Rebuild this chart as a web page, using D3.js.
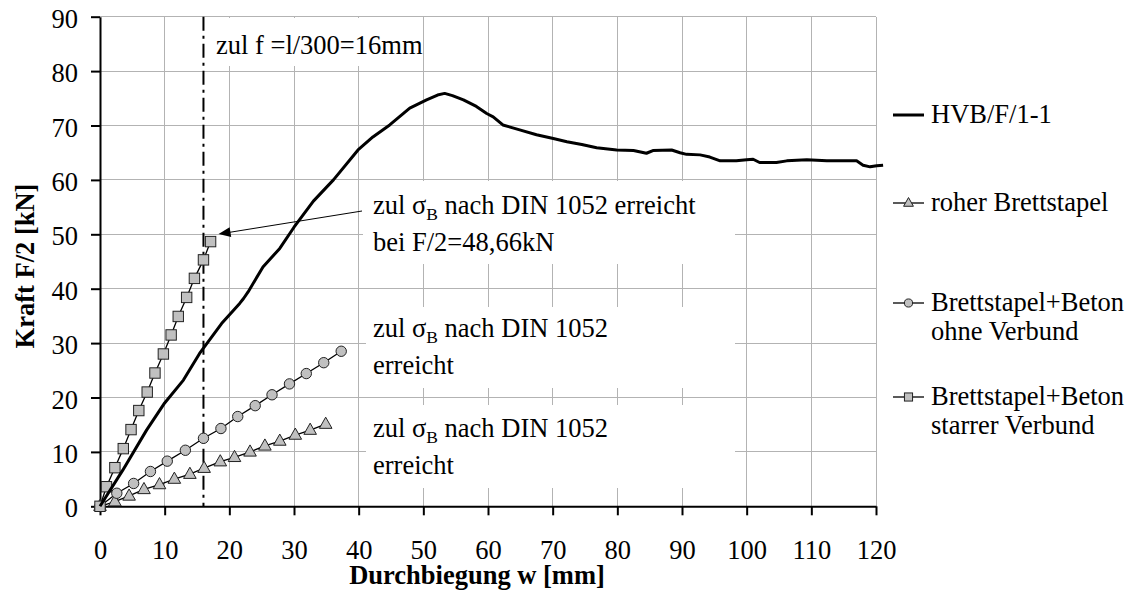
<!DOCTYPE html>
<html>
<head>
<meta charset="utf-8">
<script src="https://cdn.jsdelivr.net/npm/d3@7/dist/d3.min.js"></script>
<style>
  html, body { margin: 0; padding: 0; background: #fff; }
  svg { display: block; }
  text { font-family: "Liberation Serif", "Times New Roman", serif; fill: #000; }
</style>
</head>
<body>
<svg id="chart" width="1133" height="604"></svg>
<script>
// Load-deflection curves, w in mm, F/2 in kN
const hvbTest = [
  [0,0],[3.5,6.6],[7.2,14],[10,19],[12.9,23.2],[15.4,28.1],[18.8,33.6],[21.6,37.3],[22.2,38.2],
  [22.9,39.4],[25.2,44.0],[27.8,47.4],[30,51.3],[33,56.1],[36.1,60.0],[39.9,65.5],[42.2,67.9],
  [44.8,70.1],[47.9,73.2],[50.5,74.7],[52.2,75.6],[53.3,75.9],[54.5,75.5],[56.2,74.7],[58.2,73.5],
  [59.8,72.2],[60.8,71.6],[62.3,70.1],[64.9,69.2],[67.5,68.3],[70.1,67.6],[72.2,67.0],[74.5,66.5],
  [76.8,65.9],[79.9,65.5],[82.5,65.4],[84.5,64.9],[85.5,65.4],[88.4,65.5],[89.7,65.0],[90.7,64.7],
  [92.8,64.6],[94.3,64.2],[95.9,63.5],[98.4,63.5],[100,63.7],[101,63.8],[102,63.2],[104.6,63.2],
  [106.2,63.5],[109.3,63.7],[112.4,63.5],[117,63.5],[118,62.7],[119.1,62.4],[120.1,62.6],[121.1,62.7]
];
const roherBrettstapel = [
  [0,0],[2.3,0.85],[4.5,1.9],[6.8,3.1],[9.2,4.0],[11.5,5.0],[13.9,5.9],[16.1,7.0],[18.6,8.2],
  [20.8,9.0],[23.2,10.0],[25.5,11.1],[27.8,12.0],[30.2,13.1],[32.5,14.0],[34.9,15.1]
];
const ohneVerbund = [
  [0,0],[2.6,2.4],[5.2,4.2],[7.8,6.4],[10.4,8.3],[13.2,10.3],[16.0,12.5],[18.7,14.3],[21.3,16.5],
  [24.0,18.5],[26.6,20.5],[29.3,22.5],[31.9,24.4],[34.6,26.4],[37.3,28.5]
];
const starrerVerbund = [
  [0,0],[1.0,3.6],[2.3,7.1],[3.6,10.6],[4.8,14.1],[6.0,17.6],[7.3,21.0],[8.5,24.5],[9.8,28.0],
  [11.0,31.5],[12.1,34.9],[13.4,38.4],[14.6,41.9],[16.0,45.3],[17.1,48.66]
];
const xTicks = [0,10,20,30,40,50,60,70,80,90,100,110,120];
const yTicks = [0,10,20,30,40,50,60,70,80,90];
const limitDeflection = 16;
const seriesNames = ["HVB/F/1-1", "roher Brettstapel", "Brettstapel+Beton|ohne Verbund", "Brettstapel+Beton|starrer Verbund"];

const svg = d3.select("#chart");
const FS = 26.5;
const plot = { left: 100, right: 876, top: 16.7, bottom: 506.3 };
const x = d3.scaleLinear().domain([0, 120]).range([plot.left, plot.right]);
const y = d3.scaleLinear().domain([0, 90]).range([plot.bottom, plot.top]);

// grid
const grid = svg.append("g").attr("stroke", "#b3b3b3").attr("stroke-width", 1).attr("shape-rendering", "crispEdges");
grid.selectAll("line.v").data(xTicks.filter(d => d > 0)).join("line")
  .attr("x1", d => x(d)).attr("x2", d => x(d)).attr("y1", y(90)).attr("y2", y(0));
grid.selectAll("line.h").data(yTicks.filter(d => d > 0)).join("line")
  .attr("x1", x(0)).attr("x2", x(120)).attr("y1", d => y(d)).attr("y2", d => y(d));

// white text boxes over the grid
const boxes = [
  [207, 18, 418, 66],
  [363, 181, 735, 264],
  [366, 307, 735, 388],
  [366, 405, 735, 488]
];
svg.append("g").selectAll("rect").data(boxes).join("rect")
  .attr("x", d => d[0]).attr("y", d => d[1]).attr("width", d => d[2] - d[0]).attr("height", d => d[3] - d[1])
  .attr("fill", "#fff");

// allowable deflection line
svg.append("line")
  .attr("x1", x(limitDeflection)).attr("x2", x(limitDeflection))
  .attr("y1", y(90)).attr("y2", y(0))
  .attr("stroke", "#000").attr("stroke-width", 2)
  .attr("stroke-dasharray", "14,5,3,5");

// axes
const yAxis = svg.append("g").attr("transform", `translate(${plot.left},0)`)
  .call(d3.axisLeft(y).tickValues(yTicks).tickSize(9).tickPadding(13).tickSizeOuter(0));
const xAxis = svg.append("g").attr("transform", `translate(0,${plot.bottom})`)
  .call(d3.axisBottom(x).tickValues(xTicks).tickSize(9).tickPadding(25).tickSizeOuter(0));
[xAxis, yAxis].forEach(a => {
  a.select(".domain").attr("stroke", "#000").attr("stroke-width", 2);
  a.selectAll(".tick line").attr("stroke", "#000").attr("stroke-width", 2);
  a.selectAll(".tick text").attr("font-size", FS).attr("font-family", "Liberation Serif, serif").attr("fill", "#000");
});
yAxis.selectAll(".tick text").attr("dy", "0.4em");

// axis titles
svg.append("text").attr("x", 477).attr("y", 584).attr("text-anchor", "middle")
  .attr("font-size", FS).attr("font-weight", "bold").text("Durchbiegung w [mm]");
svg.append("text").attr("transform", "translate(34,266) rotate(-90)").attr("text-anchor", "middle")
  .attr("font-size", FS).attr("font-weight", "bold").text("Kraft F/2 [kN]");

// markers
const markerFill = "#c0c0c0";
function drawMarker(g, kind, s) {
  if (kind === "tri") {
    g.append("path").attr("d", `M0,${-7 * s}L${6.3 * s},${4.2 * s}L${-6.3 * s},${4.2 * s}Z`);
  } else if (kind === "circle") {
    g.append("circle").attr("r", 5.2 * s);
  } else if (kind === "square") {
    g.append("rect").attr("x", -5.2 * s).attr("y", -5.2 * s).attr("width", 10.4 * s).attr("height", 10.4 * s);
  }
  g.selectAll("path,circle,rect").attr("fill", markerFill).attr("stroke", "#222").attr("stroke-width", 1);
}

const line = d3.line().x(d => x(d[0])).y(d => y(d[1]));
const markerSeries = [
  { data: roherBrettstapel, kind: "tri" },
  { data: ohneVerbund, kind: "circle" },
  { data: starrerVerbund, kind: "square" }
];
markerSeries.forEach(s => {
  svg.append("path").datum(s.data).attr("d", line).attr("fill", "none").attr("stroke", "#000").attr("stroke-width", 1.3);
});
markerSeries.forEach(s => {
  s.data.forEach(d => {
    const g = svg.append("g").attr("transform", `translate(${x(d[0])},${y(d[1])})`);
    drawMarker(g, s.kind, 1);
  });
});

svg.append("path").datum(hvbTest).attr("d", line).attr("fill", "none")
  .attr("stroke", "#000").attr("stroke-width", 3).attr("stroke-linejoin", "round");

// annotations
svg.append("text").attr("x", 216).attr("y", 54).attr("font-size", FS).text("zul f =l/300=16mm");

function sigmaLabel(xp, yp, rest) {
  const t = svg.append("text").attr("x", xp).attr("y", yp).attr("font-size", FS);
  t.append("tspan").text("zul σ");
  t.append("tspan").attr("font-size", FS * 0.66).attr("dy", 6).text("B");
  t.append("tspan").attr("dy", -6).text(" " + rest);
}
sigmaLabel(373, 214, "nach DIN 1052 erreicht");
svg.append("text").attr("x", 373).attr("y", 251).attr("font-size", FS).text("bei F/2=48,66kN");
sigmaLabel(373, 337, "nach DIN 1052");
svg.append("text").attr("x", 373).attr("y", 374).attr("font-size", FS).text("erreicht");
sigmaLabel(373, 437, "nach DIN 1052");
svg.append("text").attr("x", 373).attr("y", 474).attr("font-size", FS).text("erreicht");

// arrow to the last point of the rigid-composite series
const lastPt = starrerVerbund[starrerVerbund.length - 1];
const tip = [x(lastPt[0]) + 8, y(lastPt[1]) - 7.5];
const tail = [362, 211];
const ang = Math.atan2(tail[1] - tip[1], tail[0] - tip[0]);
svg.append("line").attr("x1", tail[0]).attr("y1", tail[1])
  .attr("x2", tip[0] + 10 * Math.cos(ang)).attr("y2", tip[1] + 10 * Math.sin(ang))
  .attr("stroke", "#000").attr("stroke-width", 1);
const hl = 12, hw = 5;
const bx = tip[0] + hl * Math.cos(ang), by = tip[1] + hl * Math.sin(ang);
svg.append("path")
  .attr("d", `M${tip[0]},${tip[1]}L${bx - hw * Math.sin(ang)},${by + hw * Math.cos(ang)}L${bx + hw * Math.sin(ang)},${by - hw * Math.cos(ang)}Z`)
  .attr("fill", "#000");

// legend
const legendY = [115, 203, 303, 397];
const legendKinds = ["line", "tri", "circle", "square"];
const lg = svg.append("g");
seriesNames.forEach((name, i) => {
  const yy = legendY[i];
  lg.append("line").attr("x1", 893).attr("x2", 924).attr("y1", yy).attr("y2", yy)
    .attr("stroke", "#000").attr("stroke-width", i === 0 ? 3 : 1.3);
  if (legendKinds[i] !== "line") {
    const g = lg.append("g").attr("transform", `translate(908.5,${yy})`);
    drawMarker(g, legendKinds[i], 0.78);
  }
  const parts = name.split("|");
  parts.forEach((p, j) => {
    lg.append("text").attr("x", 931).attr("y", yy + 8 + j * 29).attr("font-size", FS).text(p);
  });
});
</script>
</body>
</html>
